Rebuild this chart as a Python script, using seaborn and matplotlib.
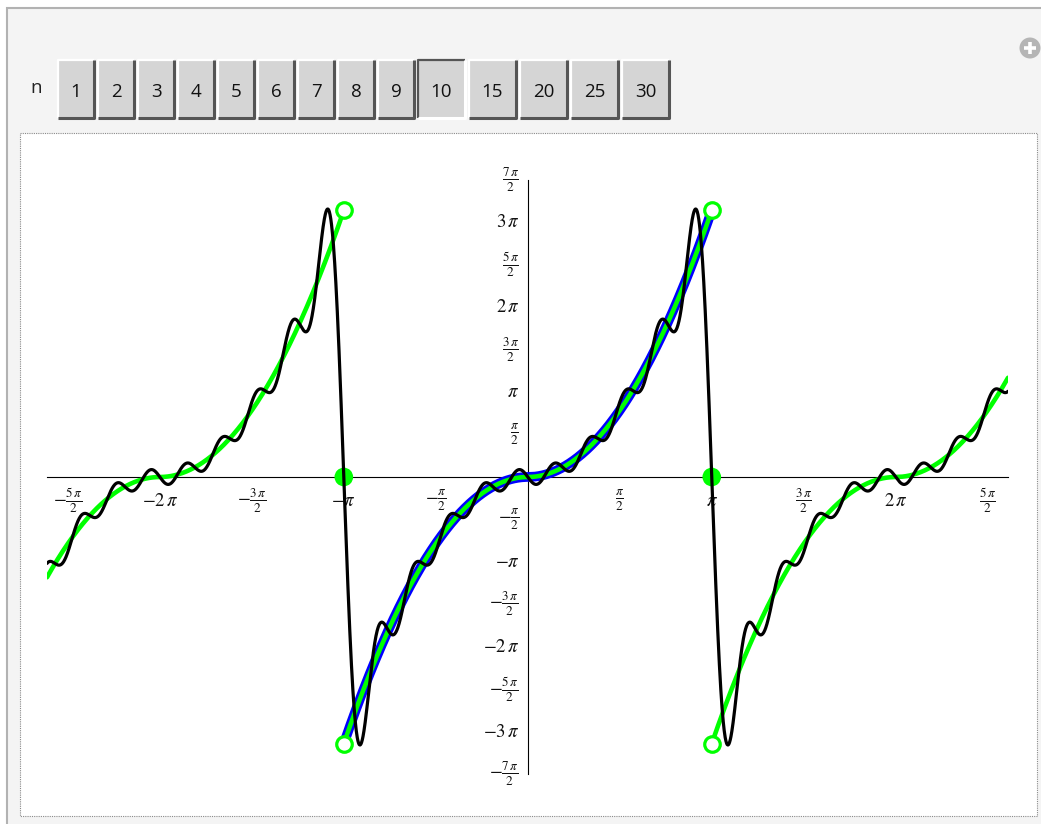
import numpy as np
import pandas as pd
import matplotlib
matplotlib.use("Agg")
import matplotlib.pyplot as plt
from matplotlib.patches import Rectangle, Circle
import seaborn as sns

# Control bar: selectable numbers of Fourier terms
n_choices = [1, 2, 3, 4, 5, 6, 7, 8, 9, 10, 15, 20, 25, 30]
n_selected = 10

# Sine coefficients b_k (k = 1..10) of f(x) = x|x| on (-pi, pi)
b_coeffs = [3.7367, -3.1416, 2.0001, -1.5708, 1.2362,
            -1.0472, 0.8902, -0.7854, 0.6946, -0.6283]

# Plot window and tick positions (in multiples of pi/2)
x_range = (-8.21, 8.20)
y_range = (-3.5 * np.pi, 3.5 * np.pi)
x_tick_halfpi = [-5, -4, -3, -2, -1, 1, 2, 3, 4, 5]
y_tick_halfpi = [-7, -6, -5, -4, -3, -2, -1, 1, 2, 3, 4, 5, 6, 7]

W, H = 1041, 824

sns.set_style("white")
plt.rcParams["font.family"] = ["Open Sans", "DejaVu Sans"]
plt.rcParams["mathtext.fontset"] = "stix"


def f(x):
    return x * np.abs(x)


def partial_sum(x, coeffs):
    return sum(b * np.sin((k + 1) * x) for k, b in enumerate(coeffs))


def pi_label(k):
    sign = "-" if k < 0 else ""
    a = abs(k)
    if a % 2 == 0:
        m = a // 2
        body = r"\pi" if m == 1 else rf"{m}\,\pi"
    else:
        body = r"\frac{\pi}{2}" if a == 1 else rf"\frac{{{a}\,\pi}}{{2}}"
    return f"${sign}{body}$"


# ---- curves -------------------------------------------------------------
pieces = []
for j, c in enumerate([-2 * np.pi, 0.0, 2 * np.pi]):
    lo, hi = max(c - np.pi, x_range[0]), min(c + np.pi, x_range[1])
    xs = np.linspace(lo, hi, 500)
    pieces.append(pd.DataFrame({"x": xs, "y": f(xs - c), "piece": j}))
green_df = pd.concat(pieces, ignore_index=True)

xs_b = np.linspace(-np.pi, np.pi, 800)
blue_df = pd.DataFrame({"x": xs_b, "y": f(xs_b)})

xs_s = np.linspace(x_range[0], x_range[1], 4000)
sum_df = pd.DataFrame({"x": xs_s, "y": partial_sum(xs_s, b_coeffs[:n_selected])})

jump_x = np.array([-np.pi, np.pi])
open_df = pd.DataFrame({"x": np.repeat(jump_x, 2),
                        "y": np.tile([f(np.pi), -f(np.pi)], 2)})
mid_df = pd.DataFrame({"x": jump_x, "y": (f(np.pi) + f(-np.pi)) / 2 * np.ones(2)})

# ---- figure & control panel --------------------------------------------
fig = plt.figure(figsize=(W / 100, H / 100), dpi=100)
fig.patch.set_facecolor("white")

bg = fig.add_axes([0, 0, 1, 1], zorder=0)
bg.set_xlim(0, W)
bg.set_ylim(H, 0)
bg.axis("off")

bg.add_patch(Rectangle((6.5, 8), W, H, facecolor="#f4f4f4",
                       edgecolor="#b2b2b2", lw=1.5))
bg.add_patch(Rectangle((19.5, 132.5), 1017, 683.5, facecolor="white",
                       edgecolor="#8a8a8a", lw=0.8, linestyle=(0, (1, 1))))

bg.text(36, 88, "n", fontsize=13.5, ha="center", va="center", color="#222222")

bx = 58
top, bot = 59.5, 118
for n in n_choices:
    w = 36 if n < 10 else 47
    bg.add_patch(Rectangle((bx, top), w, bot - top, facecolor="#d5d5d5",
                           edgecolor="none"))
    if n == n_selected:
        tl, br = "#555555", "white"
    else:
        tl, br = "white", "#555555"
    bg.plot([bx, bx, bx + w], [bot, top, top], color=tl, lw=1.6,
            solid_capstyle="butt")
    bg.plot([bx, bx + w, bx + w], [bot, bot, top], color=br, lw=2.2,
            solid_capstyle="butt")
    bg.text(bx + w / 2, 92, str(n), fontsize=13.5, ha="center", va="center",
            color="#111111")
    bx += w + 4

bg.add_patch(Circle((1030, 48), 10.5, facecolor="#b5b5b5", edgecolor="none"))
bg.plot([1024, 1036], [48, 48], color="white", lw=2.6, solid_capstyle="butt")
bg.plot([1030, 1030], [42, 54], color="white", lw=2.6, solid_capstyle="butt")

# ---- plot axes ----------------------------------------------------------
x0, x1, y0, y1 = 47, 1008, 180, 774
ax = fig.add_axes([x0 / W, 1 - y1 / H, (x1 - x0) / W, (y1 - y0) / H], zorder=1)
ax.patch.set_alpha(0)

sns.lineplot(data=blue_df, x="x", y="y", color="#0000ff", lw=7.0,
             estimator=None, sort=False, ax=ax, zorder=2)
sns.lineplot(data=green_df, x="x", y="y", units="piece", estimator=None,
             sort=False, color="#00ff00", lw=3.3, ax=ax, zorder=3)
sns.scatterplot(data=mid_df, x="x", y="y", s=180, color="#00ff00",
                edgecolor="none", ax=ax, zorder=4, clip_on=False)
sns.scatterplot(data=open_df, x="x", y="y", s=125, color="white",
                edgecolor="#00ff00", linewidth=2.3, ax=ax, zorder=5,
                clip_on=False)
sns.lineplot(data=sum_df, x="x", y="y", color="black", lw=2.3,
             estimator=None, sort=False, ax=ax, zorder=6)

ax.set_xlim(*x_range)
ax.set_ylim(*y_range)
ax.set_xlabel("")
ax.set_ylabel("")

for side in ["top", "right"]:
    ax.spines[side].set_visible(False)
for side in ["left", "bottom"]:
    ax.spines[side].set_position("zero")
    ax.spines[side].set_color("black")
    ax.spines[side].set_linewidth(0.8)
    ax.spines[side].set_zorder(1.5)

ax.set_xticks([k * np.pi / 2 for k in x_tick_halfpi],
              [pi_label(k) for k in x_tick_halfpi])
ax.set_yticks([k * np.pi / 2 for k in y_tick_halfpi],
              [pi_label(k) for k in y_tick_halfpi])
ax.tick_params(axis="both", direction="in", length=2.5, width=0.7,
               color="black", labelsize=13.5, labelcolor="#111111")
ax.tick_params(axis="x", pad=17)
ax.tick_params(axis="y", pad=6)
for t in ax.get_xticklabels():
    t.set_va("center")
for t in ax.get_yticklabels():
    t.set_va("center")
ax.grid(False)
if ax.get_legend() is not None:
    ax.get_legend().remove()

fig.savefig("out.png", dpi=100, facecolor=fig.get_facecolor())
